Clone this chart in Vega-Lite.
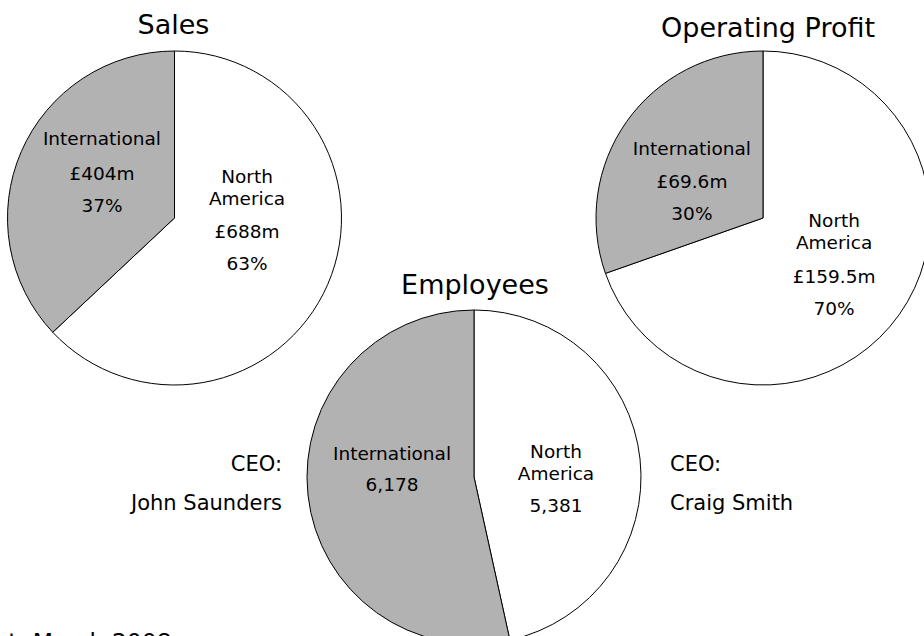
{
  "$schema": "https://vega.github.io/schema/vega-lite/v6.json",
  "width": 924,
  "height": 636,
  "autosize": {"type": "none"},
  "padding": 0,
  "background": "#ffffff",
  "config": {"view": {"stroke": null}, "text": {"font": "DejaVu Sans", "color": "#000000"}},
  "datasets": {
    "pies": [
      {"chart": "Sales", "region": "North America", "value": 688, "label": "£688m\n63%"},
      {"chart": "Sales", "region": "International", "value": 404, "label": "£404m\n37%"},
      {"chart": "Operating Profit", "region": "North America", "value": 159.5, "label": "£159.5m\n70%"},
      {"chart": "Operating Profit", "region": "International", "value": 69.6, "label": "£69.6m\n30%"},
      {"chart": "Employees", "region": "North America", "value": 5381, "label": "5,381"},
      {"chart": "Employees", "region": "International", "value": 6178, "label": "6,178"}
    ],
    "notes": [
      {"note": "CEO:\nJohn Saunders", "side": "International"},
      {"note": "CEO:\nCraig Smith", "side": "North America"},
      {"note": "As at: March 2008", "side": "footer"}
    ]
  },
  "data": {"name": "pies"},
  "layer": [
    {
      "transform": [{"filter": "datum.chart === 'Sales'"}],
      "mark": {"type": "arc", "outerRadius": 167, "stroke": "#000000", "strokeWidth": 1},
      "encoding": {
        "x": {"datum": 174.5, "type": "quantitative", "scale": {"domain": [0, 924], "nice": false, "zero": false}, "axis": null},
        "y": {"datum": 218, "type": "quantitative", "scale": {"domain": [0, 636], "nice": false, "zero": false, "reverse": true}, "axis": null},
        "theta": {"field": "value", "type": "quantitative", "stack": "normalize"},
        "color": {"field": "region", "type": "nominal", "scale": {"domain": ["International", "North America"], "range": ["#b2b2b2", "#ffffff"]}, "legend": null},
        "order": {"field": "region", "sort": "descending"}
      }
    },
    {
      "transform": [{"filter": "datum.chart === 'Operating Profit'"}],
      "mark": {"type": "arc", "outerRadius": 167, "stroke": "#000000", "strokeWidth": 1},
      "encoding": {
        "x": {"datum": 763, "type": "quantitative"},
        "y": {"datum": 218, "type": "quantitative"},
        "theta": {"field": "value", "type": "quantitative", "stack": "normalize"},
        "color": {"field": "region", "type": "nominal"},
        "order": {"field": "region", "sort": "descending"}
      }
    },
    {
      "transform": [{"filter": "datum.chart === 'Employees'"}],
      "mark": {"type": "arc", "outerRadius": 167, "stroke": "#000000", "strokeWidth": 1},
      "encoding": {
        "x": {"datum": 474, "type": "quantitative"},
        "y": {"datum": 477, "type": "quantitative"},
        "theta": {"field": "value", "type": "quantitative", "stack": "normalize"},
        "color": {"field": "region", "type": "nominal"},
        "order": {"field": "region", "sort": "descending"}
      }
    },
    {
      "transform": [{"filter": "datum.chart === 'Sales'"}],
      "mark": {"type": "text", "radius": 78.3, "thetaOffset": -0.023, "dy": -15, "fontSize": 18.5, "lineBreak": "\n", "lineHeight": 32, "align": "center", "baseline": "middle"},
      "encoding": {
        "x": {"datum": 174.5, "type": "quantitative"},
        "y": {"datum": 218, "type": "quantitative"},
        "theta": {"field": "value", "type": "quantitative", "stack": "normalize"},
        "order": {"field": "region", "sort": "descending"},
        "text": {"field": "label", "type": "nominal"}
      }
    },
    {
      "transform": [{"filter": "datum.chart === 'Sales'"}],
      "mark": {"type": "text", "radius": 78.3, "thetaOffset": -0.023, "dy": -70, "fontSize": 18.5, "lineBreak": " ", "lineHeight": 22, "align": "center", "baseline": "middle"},
      "encoding": {
        "x": {"datum": 174.5, "type": "quantitative"},
        "y": {"datum": 218, "type": "quantitative"},
        "theta": {"field": "value", "type": "quantitative", "stack": "normalize"},
        "order": {"field": "region", "sort": "descending"},
        "text": {"condition": {"test": "datum.region === 'North America'", "field": "region", "type": "nominal"}, "value": ""}
      }
    },
    {
      "transform": [{"filter": "datum.chart === 'Sales'"}],
      "mark": {"type": "text", "radius": 78.3, "thetaOffset": -0.023, "dy": -50, "fontSize": 18.5, "align": "center", "baseline": "middle"},
      "encoding": {
        "x": {"datum": 174.5, "type": "quantitative"},
        "y": {"datum": 218, "type": "quantitative"},
        "theta": {"field": "value", "type": "quantitative", "stack": "normalize"},
        "order": {"field": "region", "sort": "descending"},
        "text": {"condition": {"test": "datum.region === 'International'", "field": "region", "type": "nominal"}, "value": ""}
      }
    },
    {
      "transform": [{"filter": "datum.chart === 'Operating Profit'"}],
      "mark": {"type": "text", "radius": 85.3, "thetaOffset": -0.031, "dy": 11.5, "fontSize": 18.5, "lineBreak": "\n", "lineHeight": 32, "align": "center", "baseline": "middle"},
      "encoding": {
        "x": {"datum": 763, "type": "quantitative"},
        "y": {"datum": 218, "type": "quantitative"},
        "theta": {"field": "value", "type": "quantitative", "stack": "normalize"},
        "order": {"field": "region", "sort": "descending"},
        "text": {"field": "label", "type": "nominal"}
      }
    },
    {
      "transform": [{"filter": "datum.chart === 'Operating Profit'"}],
      "mark": {"type": "text", "radius": 85.3, "thetaOffset": -0.031, "dy": -44.5, "fontSize": 18.5, "lineBreak": " ", "lineHeight": 22, "align": "center", "baseline": "middle"},
      "encoding": {
        "x": {"datum": 763, "type": "quantitative"},
        "y": {"datum": 218, "type": "quantitative"},
        "theta": {"field": "value", "type": "quantitative", "stack": "normalize"},
        "order": {"field": "region", "sort": "descending"},
        "text": {"condition": {"test": "datum.region === 'North America'", "field": "region", "type": "nominal"}, "value": ""}
      }
    },
    {
      "transform": [{"filter": "datum.chart === 'Operating Profit'"}],
      "mark": {"type": "text", "radius": 85.3, "thetaOffset": -0.031, "dy": -21.5, "fontSize": 18.5, "align": "center", "baseline": "middle"},
      "encoding": {
        "x": {"datum": 763, "type": "quantitative"},
        "y": {"datum": 218, "type": "quantitative"},
        "theta": {"field": "value", "type": "quantitative", "stack": "normalize"},
        "order": {"field": "region", "sort": "descending"},
        "text": {"condition": {"test": "datum.region === 'International'", "field": "region", "type": "nominal"}, "value": ""}
      }
    },
    {
      "transform": [{"filter": "datum.chart === 'Employees'"}],
      "mark": {"type": "text", "radius": 82.6, "thetaOffset": 0.23, "dy": 18.5, "fontSize": 18.5, "lineBreak": "\n", "lineHeight": 32, "align": "center", "baseline": "middle"},
      "encoding": {
        "x": {"datum": 474, "type": "quantitative"},
        "y": {"datum": 477, "type": "quantitative"},
        "theta": {"field": "value", "type": "quantitative", "stack": "normalize"},
        "order": {"field": "region", "sort": "descending"},
        "text": {"field": "label", "type": "nominal"}
      }
    },
    {
      "transform": [{"filter": "datum.chart === 'Employees'"}],
      "mark": {"type": "text", "radius": 82.6, "thetaOffset": 0.23, "dy": -35.5, "fontSize": 18.5, "lineBreak": " ", "lineHeight": 22, "align": "center", "baseline": "middle"},
      "encoding": {
        "x": {"datum": 474, "type": "quantitative"},
        "y": {"datum": 477, "type": "quantitative"},
        "theta": {"field": "value", "type": "quantitative", "stack": "normalize"},
        "order": {"field": "region", "sort": "descending"},
        "text": {"condition": {"test": "datum.region === 'North America'", "field": "region", "type": "nominal"}, "value": ""}
      }
    },
    {
      "transform": [{"filter": "datum.chart === 'Employees'"}],
      "mark": {"type": "text", "radius": 82.6, "thetaOffset": 0.23, "dy": -12.5, "fontSize": 18.5, "align": "center", "baseline": "middle"},
      "encoding": {
        "x": {"datum": 474, "type": "quantitative"},
        "y": {"datum": 477, "type": "quantitative"},
        "theta": {"field": "value", "type": "quantitative", "stack": "normalize"},
        "order": {"field": "region", "sort": "descending"},
        "text": {"condition": {"test": "datum.region === 'International'", "field": "region", "type": "nominal"}, "value": ""}
      }
    },
    {
      "transform": [{"filter": "datum.chart === 'Sales' && datum.region === 'North America'"}],
      "mark": {"type": "text", "fontSize": 27, "dx": -1, "dy": -192, "align": "center", "baseline": "middle"},
      "encoding": {
        "x": {"datum": 174.5, "type": "quantitative"},
        "y": {"datum": 218, "type": "quantitative"},
        "text": {"field": "chart", "type": "nominal"}
      }
    },
    {
      "transform": [{"filter": "datum.chart === 'Operating Profit' && datum.region === 'North America'"}],
      "mark": {"type": "text", "fontSize": 27, "dx": 5, "dy": -188.7, "align": "center", "baseline": "middle"},
      "encoding": {
        "x": {"datum": 763, "type": "quantitative"},
        "y": {"datum": 218, "type": "quantitative"},
        "text": {"field": "chart", "type": "nominal"}
      }
    },
    {
      "transform": [{"filter": "datum.chart === 'Employees' && datum.region === 'North America'"}],
      "mark": {"type": "text", "fontSize": 27, "dx": 1, "dy": -191, "align": "center", "baseline": "middle"},
      "encoding": {
        "x": {"datum": 474, "type": "quantitative"},
        "y": {"datum": 477, "type": "quantitative"},
        "text": {"field": "chart", "type": "nominal"}
      }
    },
    {
      "data": {"name": "notes"},
      "transform": [{"filter": "datum.side === 'International'"}],
      "mark": {"type": "text", "fontSize": 21, "dx": -192, "dy": -12.3, "align": "right", "baseline": "middle", "lineBreak": "\n", "lineHeight": 39},
      "encoding": {
        "x": {"datum": 474, "type": "quantitative"},
        "y": {"datum": 477, "type": "quantitative"},
        "text": {"field": "note", "type": "nominal"}
      }
    },
    {
      "data": {"name": "notes"},
      "transform": [{"filter": "datum.side === 'North America'"}],
      "mark": {"type": "text", "fontSize": 21, "dx": 196, "dy": -12.3, "align": "left", "baseline": "middle", "lineBreak": "\n", "lineHeight": 39},
      "encoding": {
        "x": {"datum": 474, "type": "quantitative"},
        "y": {"datum": 477, "type": "quantitative"},
        "text": {"field": "note", "type": "nominal"}
      }
    },
    {
      "data": {"name": "notes"},
      "transform": [{"filter": "datum.side === 'footer'"}],
      "mark": {"type": "text", "fontSize": 23.5, "dx": -42, "dy": 14, "align": "left", "baseline": "alphabetic"},
      "encoding": {
        "x": {"datum": 0, "type": "quantitative"},
        "y": {"datum": 636, "type": "quantitative"},
        "text": {"field": "note", "type": "nominal"}
      }
    }
  ]
}
